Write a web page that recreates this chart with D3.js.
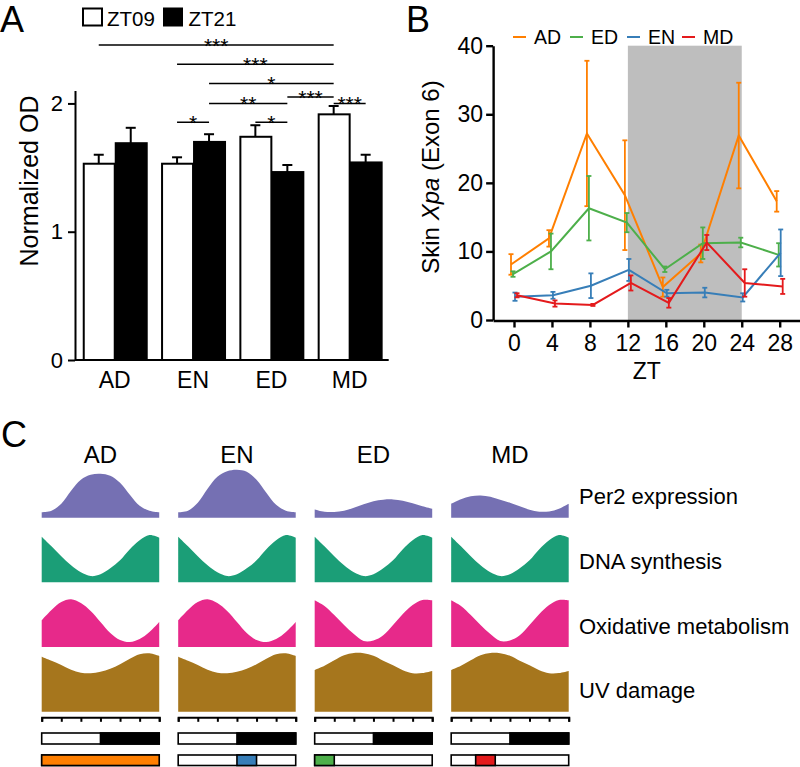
<!DOCTYPE html>
<html><head><meta charset="utf-8">
<script src="https://cdn.jsdelivr.net/npm/d3@7"></script>
<style>body{margin:0;background:#fff} svg{display:block;font-family:"Liberation Sans",Arial,sans-serif}</style>
</head><body><svg id="c" width="800" height="767"></svg>
<script>
// ---------- Panel A data ----------
const catsA = ["AD", "EN", "ED", "MD"];
const seriesA = ["ZT09", "ZT21"];
const zt09 = [1.53, 1.53, 1.74, 1.915];
const zt09Err = [0.07, 0.05, 0.09, 0.065];
const zt21 = [1.69, 1.70, 1.465, 1.54];
const zt21Err = [0.12, 0.06, 0.055, 0.06];
const yTicksA = [0, 1, 2];
const sigFrom = [["AD","ZT09"],["EN","ZT09"],["EN","ZT21"],["EN","ZT21"],["ED","ZT21"],["MD","ZT09"],["EN","ZT09"],["ED","ZT09"]];
const sigTo   = [["MD","ZT09"],["MD","ZT09"],["MD","ZT09"],["ED","ZT21"],["MD","ZT09"],["MD","ZT21"],["EN","ZT21"],["ED","ZT21"]];
const sigLevel = [2.455, 2.305, 2.155, 2.0, 2.05, 2.0, 1.853, 1.853];
const sigLabel = ["***", "***", "*", "**", "***", "***", "*", "*"];

// ---------- Panel B data ----------
const ztB = [0, 4, 8, 12, 16, 20, 24, 28];
const groupsB = ["AD", "ED", "EN", "MD"];
const adMean = [8.1, 11.9, 27.2, 18.2, 4.8, 9.7, 26.9, 17.3];
const adErr  = [1.5, 1.2, 10.6, 8.0, 1.4, 1.3, 7.7, 1.5];
const edMean = [6.7, 10.0, 16.3, 14.2, 7.4, 11.2, 11.3, 9.5];
const edErr  = [0.4, 2.6, 4.7, 1.4, 0.4, 2.3, 0.7, 1.7];
const enMean = [3.4, 3.6, 5.0, 7.3, 3.9, 4.0, 3.3, 9.8];
const enErr  = [0.6, 0.5, 1.8, 1.6, 0.5, 0.7, 0.6, 3.4];
const mdMean = [3.6, 2.4, 2.2, 5.4, 2.5, 11.3, 5.4, 4.9];
const mdErr  = [0.3, 0.45, 0.15, 1.1, 0.7, 1.1, 2.0, 1.1];
const yTicksB = [0, 10, 20, 30, 40];
const darkB = [12, 24];

// ---------- Panel C data ----------
const colsC = ["AD", "EN", "ED", "MD"];
const rowsC = ["Per2 expression", "DNA synthesis", "Oxidative metabolism", "UV damage"];
const ztC = [0, 2, 4, 6, 8, 10, 12, 14, 16, 18, 20, 22, 24];
const per2AD = [5.5, 7, 14, 27, 38, 43, 44, 42, 35, 23, 12, 7, 5.5];
const per2EN = [5.5, 7, 15, 29, 41, 46.5, 48, 46, 38, 25, 13, 7, 5.5];
const per2ED = [8.3, 6, 5.8, 7, 10, 13.5, 16.5, 18, 18.3, 17, 14.5, 11.5, 9];
const per2MD = [14, 18.5, 21.5, 22.3, 21, 18, 15, 11.5, 8, 6, 6.3, 9, 14];
const dnaAll = [45.6, 36, 26, 17, 10, 6.3, 8, 14, 22, 33, 42, 47.3, 44.6];
const oxiADEN = [26.7, 37, 45, 47.7, 44, 36, 25, 14, 7, 5, 8, 15, 25];
const oxiEDMD = [46.7, 41, 32, 22, 13, 6, 6.5, 11.7, 22, 33, 42, 47, 46.7];
const uvADEN = [55, 51, 46.7, 42, 39, 38.4, 40, 43, 47.5, 53, 57.5, 58.4, 55.7];
const uvEDMD = [41.7, 46, 51.5, 56.5, 58.8, 58.5, 56, 51, 46.5, 41.5, 38.5, 38.6, 40.7];
const ztTicksC = [0, 4, 8, 12, 16, 20, 24];
const lightC = [0, 12];
const darkC = [12, 24];
const phaseStart = [0, 12, 0, 5];
const phaseEnd = [24, 16, 4, 9];

// ---------- styles ----------
const colB = {AD: "#ff7f00", ED: "#4daf4a", EN: "#377eb8", MD: "#e41a1c"};
const rowColors = ["#7570b3", "#1b9e77", "#e7298a", "#a6761d"];
const FONT = '"Liberation Sans", Arial, sans-serif';

const svg = d3.select("#c");
svg.append("rect").attr("width", 800).attr("height", 767).attr("fill", "#fff");

// panel letters
[["A", 0, 32], ["B", 406, 32], ["C", 1, 447]].forEach(([t, x, y]) =>
  svg.append("text").attr("x", x).attr("y", y).attr("font-size", 36).text(t));

// ================= Panel A =================
const gA = svg.append("g");
const xA = d3.scaleBand().domain(catsA).range([75.7, 388.7]).paddingInner(0.183).paddingOuter(0.09);
const xS = d3.scaleBand().domain(seriesA).range([0, xA.bandwidth()]);
const yA = d3.scaleLinear().domain([0, 2.1]).range([360, 90.6]);
const barCenter = (c, s) => xA(c) + xS(s) + xS.bandwidth() / 2;

const barsA = [];
catsA.forEach((c, i) => {
  barsA.push({c, s: "ZT09", v: zt09[i], e: zt09Err[i]});
  barsA.push({c, s: "ZT21", v: zt21[i], e: zt21Err[i]});
});
// error bars
barsA.forEach(d => {
  const cx = barCenter(d.c, d.s);
  gA.append("line").attr("x1", cx).attr("x2", cx).attr("y1", yA(d.v)).attr("y2", yA(d.v + d.e))
    .attr("stroke", "#000").attr("stroke-width", 2);
  gA.append("line").attr("x1", cx - 5).attr("x2", cx + 5).attr("y1", yA(d.v + d.e)).attr("y2", yA(d.v + d.e))
    .attr("stroke", "#000").attr("stroke-width", 2);
});
gA.selectAll("rect.bar").data(barsA).join("rect")
  .attr("x", d => xA(d.c) + xS(d.s) + 1)
  .attr("width", xS.bandwidth() - 1)
  .attr("y", d => yA(d.v))
  .attr("height", d => yA(0) - yA(d.v))
  .attr("fill", d => d.s === "ZT09" ? "#fff" : "#000")
  .attr("stroke", "#000").attr("stroke-width", 2);

// axes
const axA = gA.append("g").attr("transform", "translate(75,0)")
  .call(d3.axisLeft(yA).tickValues(yTicksA).tickSize(7).tickSizeOuter(0).tickPadding(5).tickFormat(d3.format("d")));
axA.select(".domain").attr("stroke-width", 2);
axA.selectAll(".tick line").attr("stroke-width", 2);
axA.selectAll("text").attr("font-size", 22).attr("font-family", FONT);
gA.append("line").attr("x1", 75).attr("x2", xA.range()[1]).attr("y1", yA(0)).attr("y2", yA(0))
  .attr("stroke", "#000").attr("stroke-width", 2);
catsA.forEach(c => gA.append("text").attr("x", xA(c) + xA.bandwidth() / 2).attr("y", 388)
  .attr("text-anchor", "middle").attr("font-size", 23).text(c));
gA.append("text").attr("transform", "translate(38,181) rotate(-90)").attr("text-anchor", "middle")
  .attr("font-size", 25).text("Normalized OD");

// significance
sigLabel.forEach((lab, i) => {
  const x1 = barCenter(...sigFrom[i]), x2 = barCenter(...sigTo[i]);
  const y = yA(sigLevel[i]);
  gA.append("line").attr("x1", x1).attr("x2", x2).attr("y1", y).attr("y2", y)
    .attr("stroke", "#000").attr("stroke-width", 1.6);
  gA.append("text").attr("x", (x1 + x2) / 2).attr("y", y + 7.5).attr("text-anchor", "middle")
    .attr("font-size", 21).text(lab);
});

// legend A
gA.append("rect").attr("x", 83).attr("y", 8.5).attr("width", 19).attr("height", 17).attr("fill", "#fff")
  .attr("stroke", "#000").attr("stroke-width", 2);
gA.append("text").attr("x", 107).attr("y", 26).attr("font-size", 20.5).text("ZT09");
gA.append("rect").attr("x", 163).attr("y", 7.5).attr("width", 20).attr("height", 19).attr("fill", "#000");
gA.append("text").attr("x", 188.5).attr("y", 26).attr("font-size", 20.5).text("ZT21");

// ================= Panel B =================
const gB = svg.append("g");
const xB = d3.scaleLinear().domain([0, 28]).range([514, 779.7]);
const yB = d3.scaleLinear().domain([0, 40]).range([320, 45.7]);
const dodge = {AD: -3, ED: -1, EN: 1, MD: 3};
const seriesB = {
  AD: [adMean, adErr], ED: [edMean, edErr], EN: [enMean, enErr], MD: [mdMean, mdErr]
};

gB.append("rect").attr("x", xB(darkB[0])).attr("width", xB(darkB[1]) - xB(darkB[0]))
  .attr("y", yB(40)).attr("height", yB(0) - yB(40)).attr("fill", "#bebebe");

const axisX0 = -2.2;
const xBaxis = d3.scaleLinear().domain([axisX0, 30.3]).range([xB(axisX0), xB(30.3)]);
const axBy = gB.append("g").attr("transform", `translate(${xB(axisX0)},0)`)
  .call(d3.axisLeft(yB).tickValues(yTicksB).tickSize(7).tickSizeOuter(0).tickPadding(3));
const axBx = gB.append("g").attr("transform", `translate(0,${yB(0) + 0.5})`)
  .call(d3.axisBottom(xBaxis).tickValues(ztB).tickSize(7).tickSizeOuter(0).tickPadding(7).tickFormat(d3.format("d")));
[axBy, axBx].forEach(a => {
  a.select(".domain").attr("stroke-width", 2.4);
  a.selectAll(".tick line").attr("stroke-width", 2.4);
  a.selectAll("text").attr("font-size", 23).attr("font-family", FONT).attr("fill", "#000");
});

groupsB.forEach(g => {
  const [m, e] = seriesB[g];
  const pts = ztB.map((z, i) => ({x: xB(z) + dodge[g], m: m[i], e: e[i]}));
  gB.append("path").datum(pts)
    .attr("d", d3.line().x(d => d.x).y(d => yB(d.m)))
    .attr("fill", "none").attr("stroke", colB[g]).attr("stroke-width", 2);
  pts.forEach(d => {
    gB.append("line").attr("x1", d.x).attr("x2", d.x).attr("y1", yB(d.m - d.e)).attr("y2", yB(d.m + d.e))
      .attr("stroke", colB[g]).attr("stroke-width", 1.8);
    [d.m - d.e, d.m + d.e].forEach(v => gB.append("line").attr("x1", d.x - 2.5).attr("x2", d.x + 2.5)
      .attr("y1", yB(v)).attr("y2", yB(v)).attr("stroke", colB[g]).attr("stroke-width", 1.8));
  });
});

gB.append("text").attr("transform", "translate(439,177) rotate(-90)").attr("text-anchor", "middle")
  .attr("font-size", 24)
  .call(t => {
    t.append("tspan").text("Skin ");
    t.append("tspan").attr("font-style", "italic").text("Xpa");
    t.append("tspan").text(" (Exon 6)");
  });
gB.append("text").attr("x", (xB(12) + xB(16)) / 2).attr("y", 379).attr("text-anchor", "middle")
  .attr("font-size", 23).text("ZT");

// legend B
const legX = {AD: 513, ED: 570, EN: 627, MD: 682};
groupsB.forEach(g => {
  gB.append("line").attr("x1", legX[g]).attr("x2", legX[g] + 13).attr("y1", 37).attr("y2", 37)
    .attr("stroke", colB[g]).attr("stroke-width", 2);
  gB.append("text").attr("x", legX[g] + 21).attr("y", 44).attr("font-size", 19.5).text(g);
});

// ================= Panel C =================
const gC = svg.append("g");
const xCol = d3.scaleBand().domain(colsC).range([41.7, 568.7]).paddingInner(0.139).paddingOuter(0);
const rowBottom = d3.scalePoint().domain(rowsC).range([517.7, 711.7]);
const curves = {
  "Per2 expression": {AD: per2AD, EN: per2EN, ED: per2ED, MD: per2MD},
  "DNA synthesis": {AD: dnaAll, EN: dnaAll, ED: dnaAll, MD: dnaAll},
  "Oxidative metabolism": {AD: oxiADEN, EN: oxiADEN, ED: oxiEDMD, MD: oxiEDMD},
  "UV damage": {AD: uvADEN, EN: uvADEN, ED: uvEDMD, MD: uvEDMD}
};

colsC.forEach((c, ci) => {
  const x = d3.scaleLinear().domain([0, 24]).range([xCol(c), xCol(c) + xCol.bandwidth()]);
  gC.append("text").attr("x", x(12)).attr("y", 463).attr("text-anchor", "middle")
    .attr("font-size", 24).text(c);
  rowsC.forEach((r, ri) => {
    const yb = rowBottom(r);
    const y = d3.scaleLinear().domain([0, 60]).range([yb, yb - 60]);
    const vals = curves[r][c];
    gC.append("path").datum(vals)
      .attr("d", d3.area().x((d, i) => x(ztC[i])).y0(y(0)).y1(d => y(d)).curve(d3.curveCatmullRom.alpha(0.5)))
      .attr("fill", rowColors[ri]);
  });
  // time axis
  const ax = gC.append("g").attr("transform", "translate(0,717.3)")
    .call(d3.axisBottom(x).tickValues(ztTicksC).tickSize(4.5).tickSizeOuter(4.5).tickFormat(""));
  ax.select(".domain").attr("stroke-width", 2);
  ax.selectAll(".tick line").attr("stroke-width", 2);
  // light / dark bar
  gC.append("rect").attr("x", x(lightC[0])).attr("width", x(darkC[1]) - x(lightC[0]))
    .attr("y", 733).attr("height", 11).attr("fill", "#fff").attr("stroke", "#000").attr("stroke-width", 1.6);
  gC.append("rect").attr("x", x(darkC[0])).attr("width", x(darkC[1]) - x(darkC[0]))
    .attr("y", 733).attr("height", 11).attr("fill", "#000").attr("stroke", "#000").attr("stroke-width", 1.6);
  // phase bar
  gC.append("rect").attr("x", x(0)).attr("width", x(24) - x(0))
    .attr("y", 755).attr("height", 10.5).attr("fill", "#fff").attr("stroke", "#000").attr("stroke-width", 1.6);
  gC.append("rect").attr("x", x(phaseStart[ci])).attr("width", x(phaseEnd[ci]) - x(phaseStart[ci]))
    .attr("y", 755).attr("height", 10.5).attr("fill", colB[c]).attr("stroke", "#000").attr("stroke-width", 1.6);
});
const rowLabelY = [504.3, 569.3, 634, 698.3];
rowsC.forEach((r, i) => gC.append("text").attr("x", 579).attr("y", rowLabelY[i]).attr("font-size", 22).text(r));
</script></body></html>
